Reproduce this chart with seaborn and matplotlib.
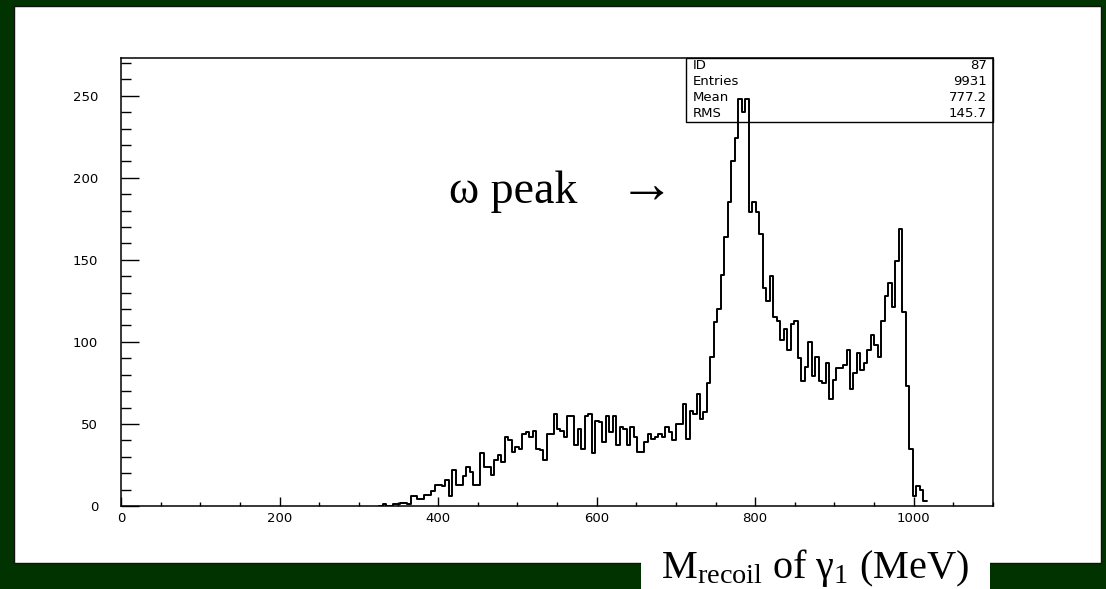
import numpy as np
import pandas as pd
import matplotlib
matplotlib.use("Agg")
import matplotlib.pyplot as plt
from matplotlib.patches import Rectangle
from matplotlib.ticker import MultipleLocator
import seaborn as sns

# Recoil mass of the first photon: histogram with 250 bins over 0-1100 MeV.
# Only bins from index 74 (325.6 MeV) up to the kinematic edge are non-empty.
hist_range = (0, 1100)
n_bins = 250
first_bin = 74
counts = [
    0, 1, 0, 0, 1, 1, 2, 2, 1, 6,
    6, 4, 4, 7, 7, 9, 13, 13, 12, 16,
    6, 22, 13, 13, 18, 24, 21, 13, 13, 32,
    24, 24, 19, 28, 31, 27, 42, 40, 33, 36,
    35, 44, 45, 42, 46, 35, 34, 28, 44, 44,
    56, 47, 46, 42, 55, 55, 37, 47, 35, 55,
    56, 32, 52, 51, 39, 55, 45, 55, 37, 48,
    47, 37, 48, 42, 33, 33, 39, 44, 41, 42,
    44, 42, 48, 45, 40, 50, 50, 62, 41, 58,
    56, 68, 53, 57, 75, 91, 112, 120, 141, 164,
    185, 210, 224, 248, 240, 248, 179, 185, 179, 166,
    133, 125, 140, 115, 113, 101, 108, 95, 111, 113,
    90, 76, 85, 100, 79, 91, 76, 75, 87, 65,
    77, 84, 84, 86, 95, 71, 81, 93, 83, 87,
    95, 104, 98, 91, 113, 128, 136, 121, 149, 169,
    118, 73, 35, 6, 12, 10, 3,
]

# Statistics panel
stat_names = ["ID", "Entries", "Mean", "RMS"]
stat_values = ["87", "9931", "777.2", "145.7"]

x_ticks = [0, 200, 400, 600, 800, 1000]

W, H = 1106, 589
BG = "#003300"

sns.set_style("white")
plt.rcParams["font.family"] = ["DejaVu Sans"]
plt.rcParams["text.color"] = "black"
plt.rcParams["xtick.color"] = "black"
plt.rcParams["ytick.color"] = "black"
plt.rcParams["mathtext.fontset"] = "custom"
plt.rcParams["mathtext.rm"] = "Liberation Serif"
plt.rcParams["mathtext.it"] = "Liberation Serif:italic"

fig = plt.figure(figsize=(W / 100, H / 100), dpi=100, facecolor=BG)

# white slide panel
fig.add_artist(Rectangle((14 / W, 1 - 563 / H), (1101 - 14) / W, (563 - 6) / H,
                         transform=fig.transFigure, facecolor="white",
                         edgecolor="#111111", lw=1.0, zorder=0))

ax = fig.add_axes([121 / W, 1 - 506 / H, 872 / W, 448 / H])
ax.set_facecolor("white")

all_edges = np.linspace(hist_range[0], hist_range[1], n_bins + 1)
edges = all_edges[first_bin:first_bin + len(counts) + 1]
df = pd.DataFrame({"mass": (edges[:-1] + edges[1:]) / 2, "entries": counts})
sns.histplot(data=df, x="mass", weights="entries", bins=len(counts),
             binrange=(float(edges[0]), float(edges[-1])), element="step",
             fill=False, color="black", linewidth=1.4, ax=ax)

ax.set_xlim(*hist_range)
ax.set_ylim(0, 273)
ax.set_xlabel("")
ax.set_ylabel("")
ax.set_xticks(x_ticks)
ax.set_xticklabels([str(t) for t in x_ticks])
ax.xaxis.set_minor_locator(MultipleLocator(50))
ax.yaxis.set_major_locator(MultipleLocator(50))
ax.yaxis.set_minor_locator(MultipleLocator(10))

ax.tick_params(axis="x", which="major", direction="in", length=6.5, width=1,
               pad=4.5, labelsize=9.5, bottom=True, top=False)
ax.tick_params(axis="x", which="minor", direction="in", length=3.2, width=1,
               bottom=True, top=False)
ax.tick_params(axis="y", which="major", direction="in", length=12.7, width=1,
               pad=16.5, labelsize=9.5, left=True, right=False)
ax.tick_params(axis="y", which="minor", direction="in", length=7.2, width=1,
               left=True, right=False)
for s in ax.spines.values():
    s.set_color("black")
    s.set_linewidth(1.1)

# statistics box in the upper right corner
box_x0, box_y0 = 0.648, 0.857
ax.add_patch(Rectangle((box_x0, box_y0), 1 - box_x0, 1 - box_y0,
                       transform=ax.transAxes, fill=False, edgecolor="black",
                       lw=1.0, clip_on=False, zorder=5))
row_y = [0.983, 0.947, 0.911, 0.877]
for name, val, y in zip(stat_names, stat_values, row_y):
    ax.text(0.656, y, name, transform=ax.transAxes, ha="left", va="center",
            fontsize=9.5, zorder=6)
    ax.text(0.993, y, val, transform=ax.transAxes, ha="right", va="center",
            fontsize=9.5, zorder=6)

# annotation of the omega peak
serif = ["Liberation Serif", "DejaVu Serif"]
fig.text(449 / W, 1 - 203 / H, "ω peak", family=serif, fontsize=33,
         ha="left", va="baseline")
fig.text(619 / W, 1 - 203 / H, "→", family=serif, fontsize=40,
         ha="left", va="baseline")

# axis title on its own white tab
fig.add_artist(Rectangle((641 / W, 0), (990 - 641) / W, (589 - 548) / H,
                         transform=fig.transFigure, facecolor="white",
                         edgecolor="none", zorder=1))
fig.text(815 / W, 1 - 578 / H, r"M$_{\mathrm{recoil}}$ of γ$_{\mathrm{1}}$ (MeV)",
         family=serif, fontsize=29, ha="center", va="baseline", zorder=2)

fig.savefig("out.png", dpi=100, facecolor=BG)
